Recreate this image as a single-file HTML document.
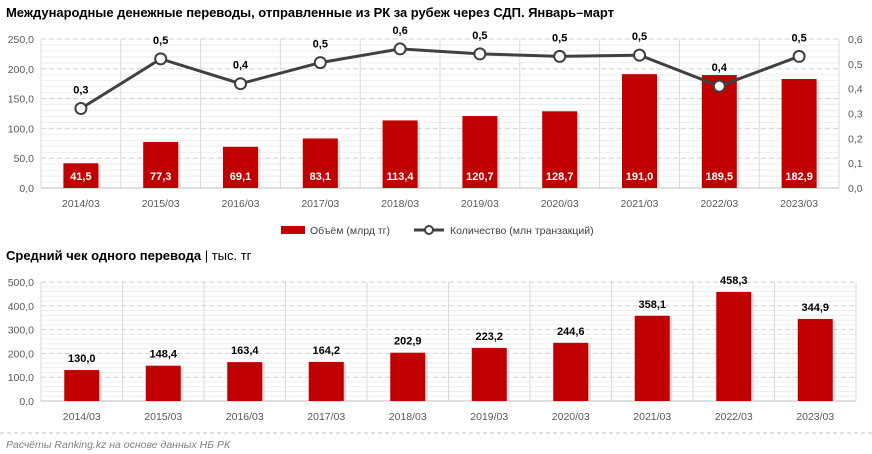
<!DOCTYPE html>
<html><head><meta charset="utf-8"><style>
body{margin:0;background:#fff;}
svg{display:block;font-family:"Liberation Sans",sans-serif;}
</style></head><body>
<svg id="s" width="872" height="454" xmlns="http://www.w3.org/2000/svg"></svg>
<script>
const s=document.getElementById('s');let h='';
h+='<text x="6" y="17" font-size="13" font-weight="bold" fill="#000" textLength="608">Международные денежные переводы, отправленные из РК за рубеж через СДП. Январь–март</text>';
const L1=41,R1=839,T1=39,B1=188;const cw1=(R1-L1)/10;
for(let i=0;i<=25;i++){const y=B1-(B1-T1)*i/25;if(i%5)h+=`<line x1="${L1}" x2="${R1}" y1="${y}" y2="${y}" stroke="#eeeeee" stroke-width="1"/>`;}
for(let i=1;i<=5;i++){const y=B1-(B1-T1)*i/5;h+=`<line x1="${L1}" x2="${R1}" y1="${y}" y2="${y}" stroke="#d0d0d0" stroke-dasharray="5,3"/>`;}
for(let i=0;i<=10;i++){const x=L1+cw1*i;h+=`<line x1="${x}" x2="${x}" y1="${T1}" y2="${B1}" stroke="#d9d9d9"/>`;}
h+=`<line x1="${L1}" x2="${R1}" y1="${B1}" y2="${B1}" stroke="#bfbfbf"/>`;
for(let i=0;i<=5;i++){const y=B1-(B1-T1)*i/5;h+=`<text x="34" y="${y+4}" font-size="10.5" fill="#595959" text-anchor="end">${(i*50).toFixed(1).replace('.',',')}</text>`;}
for(let i=0;i<=6;i++){const y=B1-(B1-T1)*i/6;h+=`<text x="848" y="${y+4}" font-size="10.5" fill="#595959">${(i*0.1).toFixed(1).replace('.',',')}</text>`;}
const yrs=['2014/03','2015/03','2016/03','2017/03','2018/03','2019/03','2020/03','2021/03','2022/03','2023/03'];
const v1=[41.5,77.3,69.1,83.1,113.4,120.7,128.7,191.0,189.5,182.9];
const q=[0.32,0.52,0.42,0.505,0.56,0.54,0.53,0.535,0.41,0.53];
const ql=['0,3','0,5','0,4','0,5','0,6','0,5','0,5','0,5','0,4','0,5'];
let pts=[];
v1.forEach((v,i)=>{const cx=L1+cw1*(i+.5);const y=B1-(B1-T1)*v/250;
h+=`<rect x="${cx-17+2}" y="${y+2}" width="35" height="${B1-y-2}" fill="#ccc" opacity=".6"/>`;
h+=`<rect x="${cx-17.5}" y="${y}" width="35" height="${B1-y}" fill="#c00000"/>`;
h+=`<text x="${cx}" y="180" font-size="11" font-weight="bold" fill="#fff" text-anchor="middle">${v.toFixed(1).replace('.',',')}</text>`;
h+=`<text x="${cx}" y="207" font-size="10.5" fill="#595959" text-anchor="middle">${yrs[i]}</text>`;
pts.push([cx,B1-(B1-T1)*q[i]/0.6]);});
h+=`<polyline points="${pts.map(p=>p.join(',')).join(' ')}" fill="none" stroke="#404040" stroke-width="3"/>`;
pts.forEach((p,i)=>{h+=`<circle cx="${p[0]}" cy="${p[1]}" r="5.5" fill="#fff" stroke="#404040" stroke-width="2"/>`;
h+=`<text x="${p[0]}" y="${p[1]-15}" font-size="11" font-weight="bold" fill="#000" text-anchor="middle">${ql[i]}</text>`;});
h+='<rect x="281" y="226" width="24" height="8" fill="#c00000"/><text x="310" y="234" font-size="10.5" fill="#404040">Объём (млрд тг)</text>';
h+='<line x1="414" x2="444" y1="230" y2="230" stroke="#404040" stroke-width="3"/><circle cx="429" cy="230" r="4" fill="#fff" stroke="#404040" stroke-width="2"/><text x="450" y="234" font-size="10.5" fill="#404040">Количество (млн транзакций)</text>';
h+='<text x="6" y="260" font-size="13" font-weight="bold" fill="#000">Средний чек одного перевода <tspan font-weight="normal">| тыс. тг</tspan></text>';
const L2=41,R2=856,T2=282,B2=401;const cw2=(R2-L2)/10;
for(let i=0;i<=25;i++){const y=B2-(B2-T2)*i/25;if(i%5)h+=`<line x1="${L2}" x2="${R2}" y1="${y}" y2="${y}" stroke="#eeeeee"/>`;}
for(let i=1;i<=5;i++){const y=B2-(B2-T2)*i/5;h+=`<line x1="${L2}" x2="${R2}" y1="${y}" y2="${y}" stroke="#d0d0d0" stroke-dasharray="5,3"/>`;}
for(let i=0;i<=10;i++){const x=L2+cw2*i;h+=`<line x1="${x}" x2="${x}" y1="${T2}" y2="${B2}" stroke="#d9d9d9"/>`;}
h+=`<line x1="${L2}" x2="${R2}" y1="${B2}" y2="${B2}" stroke="#bfbfbf"/>`;
for(let i=0;i<=5;i++){const y=B2-(B2-T2)*i/5;h+=`<text x="34" y="${y+4}" font-size="10.5" fill="#595959" text-anchor="end">${(i*100).toFixed(1).replace('.',',')}</text>`;}
const v2=[130.0,148.4,163.4,164.2,202.9,223.2,244.6,358.1,458.3,344.9];
v2.forEach((v,i)=>{const cx=L2+cw2*(i+.5);const y=B2-(B2-T2)*v/500;
h+=`<rect x="${cx-17+2}" y="${y+2}" width="35" height="${B2-y-2}" fill="#ccc" opacity=".6"/>`;
h+=`<rect x="${cx-17.5}" y="${y}" width="35" height="${B2-y}" fill="#c00000"/>`;
h+=`<text x="${cx}" y="${y-8}" font-size="11" font-weight="bold" fill="#000" text-anchor="middle">${v.toFixed(1).replace('.',',')}</text>`;
h+=`<text x="${cx}" y="420" font-size="10.5" fill="#595959" text-anchor="middle">${yrs[i]}</text>`;});
h+='<line x1="0" x2="872" y1="433" y2="433" stroke="#bfbfbf" stroke-dasharray="4,3"/>';
h+='<text x="6" y="448" font-size="10.5" font-style="italic" fill="#7f7f7f">Расчёты Ranking.kz на основе данных НБ РК</text>';
s.innerHTML=h;
</script>
</body></html>
